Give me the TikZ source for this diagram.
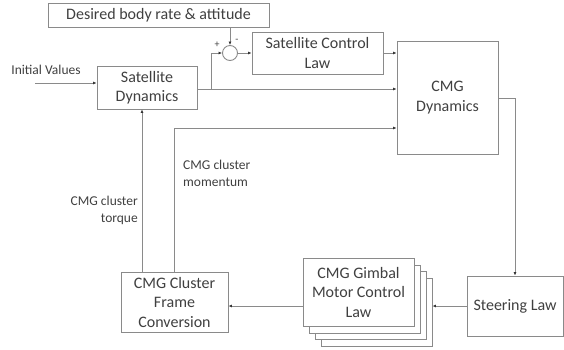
\documentclass[tikz,border=0pt]{standalone}
\usepackage{fontspec}
\setmainfont{Carlito}
\usetikzlibrary{arrows.meta}
\definecolor{linegray}{HTML}{8A8A8A}
\definecolor{txtgray}{HTML}{404040}
\tikzset{
  blk/.style={draw=linegray, line width=0.9pt, fill=white, rectangle, align=center,
    text=txtgray, font=\fontsize{16}{19.5}\selectfont, inner sep=0pt},
  lbl/.style={text=txtgray, font=\fontsize{13.5}{17}\selectfont, inner sep=0pt},
  wire/.style={draw=linegray, line width=0.9pt},
  arr/.style={wire, -{Latex[length=3.5pt,width=3pt,color=black!80]}},
}
\begin{document}
\begin{tikzpicture}[x=1pt,y=-1pt]
\useasboundingbox (0,0) rectangle (564,349);

% blocks
\node[blk, minimum width=221pt, minimum height=24pt] (des) at (158.5,15) {Desired body rate \& attitude};
\node[draw=linegray, line width=0.9pt, circle, minimum size=15pt, inner sep=0pt] (sum) at (230,53) {};
\node[blk, minimum width=131pt, minimum height=42pt] (ctrl) at (317.5,53) {Satellite Control\\Law};
\node[blk, minimum width=101pt, minimum height=113pt] (cmg) at (447.5,97.5) {CMG\\Dynamics};
\node[blk, minimum width=100pt, minimum height=43pt] (sat) at (147,87.5) {Satellite\\Dynamics};
\node[blk, minimum width=107pt, minimum height=60pt] (frame) at (174.5,302) {CMG Cluster\\Frame\\Conversion};
\node[blk, minimum width=96pt, minimum height=60pt] (steer) at (515,306) {Steering Law};

% stacked gimbal motor control blocks
\node[blk, minimum width=111pt, minimum height=68pt] (g3) at (376.5,312) {};
\node[blk, minimum width=111pt, minimum height=68pt] (g2) at (370.5,305.5) {};
\node[blk, minimum width=111pt, minimum height=68pt] (g1) at (364.5,299) {};
\node[blk, minimum width=111pt, minimum height=68pt] (g0) at (358.5,292) {CMG Gimbal\\Motor Control\\Law};

% labels
\node[lbl, anchor=center] (init) at (46,70) {Initial Values};
\node[lbl, align=right, anchor=east] (torque) at (138,210) {CMG cluster\\torque};
\node[lbl, align=left, anchor=west] (mom) at (183,173) {CMG cluster\\momentum};
\node[lbl, font=\fontsize{10}{10}\selectfont] (plus) at (217,45) {+};
\node[lbl, font=\fontsize{10}{10}\selectfont] (minus) at (237,41) {-};

% helper coordinates
\coordinate (iv) at (35,83);
\coordinate (br) at (211,89);
\coordinate (tq) at (142,0);
\coordinate (mm) at (174,128);
\coordinate (out) at (515,98);

% connectors
\draw[arr] (iv) -- (iv -| sat.west);
\draw[arr] (sat.east |- br) -- (br -| cmg.west);
\draw[arr] (br) |- (sum.west);
\draw[arr] (des.south -| sum) -- (sum.north);
\draw[arr] (sum.east) -- (ctrl.west);
\draw[arr] (ctrl.east) -- (ctrl.east -| cmg.west);
\draw[arr] (cmg.east |- out) -| (steer.north);
\draw[arr] (steer.west) -- (steer.west -| g3.east);
\draw[arr] (g0.west |- steer) -- (frame.east |- steer);
\draw[arr] (frame.north -| tq) -- (sat.south -| tq);
\draw[arr] (frame.north -| mm) |- (mm -| cmg.west);
\end{tikzpicture}
\end{document}
